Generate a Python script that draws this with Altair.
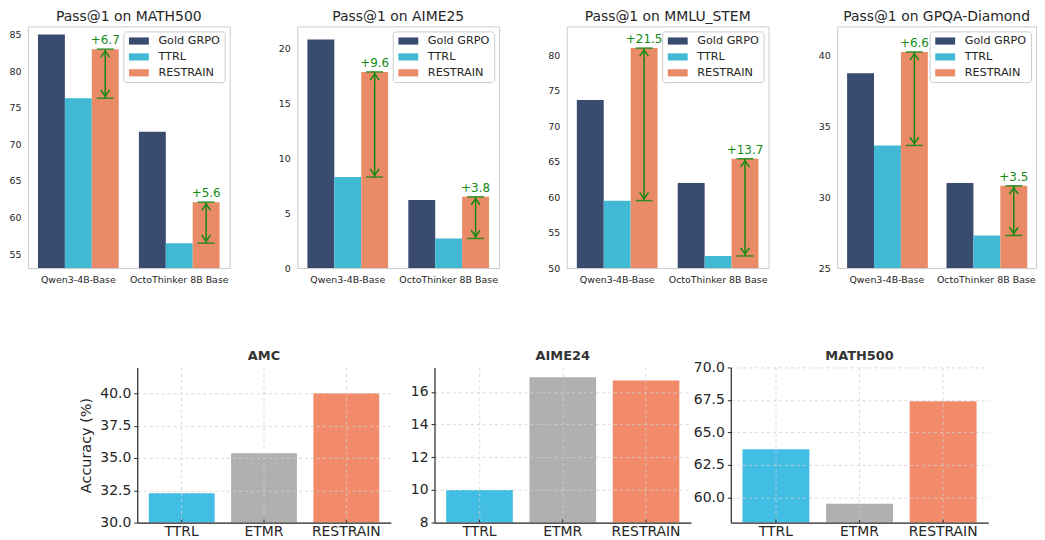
import altair as alt
import pandas as pd

FONT = "DejaVu Sans"
GREEN = "#138a13"
TXT = "#262626"

# ---------------- top row data ----------------
top_titles = ["Pass@1 on MATH500", "Pass@1 on AIME25", "Pass@1 on MMLU_STEM", "Pass@1 on GPQA-Diamond"]
models = ["Qwen3-4B-Base", "OctoThinker 8B Base"]
methods = ["Gold GRPO", "TTRL", "RESTRAIN"]
method_colors = ["#3a4b70", "#42b9d4", "#e98b66"]

gold = [[85.0, 71.7], [20.85, 6.2], [73.7, 62.0], [38.75, 31.0]]
ttrl = [[76.3, 56.5], [8.3, 2.7], [59.5, 51.7], [33.65, 27.3]]
restrain = [[83.0, 62.1], [17.9, 6.5], [81.0, 65.4], [40.25, 30.8]]
gains = [["+6.7", "+5.6"], ["+9.6", "+3.8"], ["+21.5", "+13.7"], ["+6.6", "+3.5"]]
top_domains = [[53.1, 86.1], [0, 22.05], [50, 84.05], [25, 42.05]]
top_ticks = [[55, 60, 65, 70, 75, 80, 85], [0, 5, 10, 15, 20],
             [50, 55, 60, 65, 70, 75, 80], [25, 30, 35, 40]]

# ---------------- bottom row data ----------------
bottom_titles = ["AMC", "AIME24", "MATH500"]
bottom_methods = ["TTRL", "ETMR", "RESTRAIN"]
bottom_colors = ["#42bde4", "#b0b0b0", "#f28b6a"]
amc = [32.27, 35.37, 40.0]
aime24 = [10.0, 16.9, 16.7]
math500 = [63.7, 59.5, 67.4]
bottom_values = [amc, aime24, math500]
bottom_domains = [[30, 42], [8, 17.5], [58.05, 70]]
bottom_ticks = [[30, 32.5, 35, 37.5, 40], [8, 10, 12, 14, 16], [60, 62.5, 65, 67.5, 70]]
bottom_formats = [".1f", "d", ".1f"]

TOP_W, TOP_H = 203, 243
BOT_H = 156

RECT = "M-1,-0.9 L4,-0.9 L4,0.9 L-1,0.9 Z"
UP = "M-1,1.4 L0,0 L1,1.4"
DOWN = "M-1,-1.4 L0,0 L1,-1.4"


def top_panel(i, width=TOP_W):
    rows = []
    for j, m in enumerate(models):
        for meth, vals in zip(methods, [gold, ttrl, restrain]):
            rows.append({"model": m, "method": meth, "value": vals[i][j]})
    bars_df = pd.DataFrame(rows)
    ann_df = pd.DataFrame({"model": models, "method": ["RESTRAIN"] * 2,
                           "value": restrain[i], "bottom": ttrl[i], "label": gains[i]})
    tick_df = pd.DataFrame({"model": models * 2, "method": ["RESTRAIN"] * 4,
                            "value": restrain[i] + ttrl[i]})
    down_df = pd.DataFrame({"model": models, "method": ["RESTRAIN"] * 2, "value": ttrl[i]})

    x = alt.X("model:N", sort=models,
              scale=alt.Scale(paddingInner=0.2, paddingOuter=0.1),
              axis=alt.Axis(title=None, labelAngle=0, ticks=False, domain=False, grid=False,
                            labelFontSize=9.5, labelColor=TXT, labelPadding=7, labelFont=FONT))
    xo = alt.XOffset("method:N", scale=alt.Scale(domain=methods, paddingInner=0, paddingOuter=0))
    y = alt.Y("value:Q", scale=alt.Scale(domain=top_domains[i], nice=False, zero=False),
              axis=alt.Axis(title=None, values=top_ticks[i], format="d", ticks=False, domain=False,
                            grid=False, labelFontSize=9.5, labelColor=TXT, labelPadding=7,
                            labelFont=FONT))

    bars = alt.Chart(bars_df).mark_bar(clip=True).encode(
        x=x, xOffset=xo, y=y,
        color=alt.Color("method:N", scale=alt.Scale(domain=methods, range=method_colors),
                        legend=alt.Legend(title=None, orient="top-right", offset=5, padding=4,
                                          strokeColor="#cccccc", fillColor="white", cornerRadius=3,
                                          symbolType=RECT, symbolSize=64, symbolStrokeWidth=0,
                                          symbolOpacity=1, labelFontSize=11.3, labelColor=TXT,
                                          labelFont=FONT, labelOffset=20, rowPadding=4)))
    ticks = alt.Chart(tick_df).mark_tick(color=GREEN, thickness=1.5, size=17, opacity=0.85).encode(
        x=x, xOffset=xo, y=y)
    rule = alt.Chart(ann_df).mark_rule(color=GREEN, strokeWidth=1.5).encode(
        x=x, xOffset=xo, y=y, y2=alt.Y2("bottom:Q"))
    up = alt.Chart(ann_df).mark_point(shape=UP, filled=False, size=80, strokeWidth=1.5,
                                      color=GREEN, opacity=1, yOffset=2).encode(
        x=x, xOffset=xo, y=y)
    down = alt.Chart(down_df).mark_point(shape=DOWN, filled=False, size=80, strokeWidth=1.5,
                                         color=GREEN, opacity=1, yOffset=-2).encode(
        x=x, xOffset=xo, y=y)
    txt = alt.Chart(ann_df).mark_text(color=GREEN, fontSize=12, baseline="bottom", dy=-2,
                                      font=FONT).encode(
        x=x, xOffset=xo, y=y, text="label:N")
    return alt.layer(bars, ticks, rule, up, down, txt).properties(
        width=width, height=TOP_H,
        title=alt.Title(top_titles[i], fontSize=14, fontWeight="normal", color=TXT, offset=2,
                        font=FONT, frame="group"),
        view=alt.ViewBackground(stroke="#cccccc", strokeWidth=1))


def bottom_panel(i, width):
    df = pd.DataFrame({"method": bottom_methods, "value": bottom_values[i], "color": bottom_colors})
    title_df = pd.DataFrame({"title": [bottom_titles[i]]})
    x = alt.X("method:N", sort=bottom_methods,
              scale=alt.Scale(paddingInner=0.2, paddingOuter=0.14),
              axis=alt.Axis(title=None, labelAngle=0, ticks=False, domain=True, domainColor=TXT,
                            domainWidth=1.2, labelFontSize=14, labelColor=TXT, labelPadding=2,
                            labelFont=FONT, grid=True, gridDash=[3, 3], gridColor="#d0d0d0",
                            gridOpacity=0.8, bandPosition=0.5, zindex=1))
    y = alt.Y("value:Q", scale=alt.Scale(domain=bottom_domains[i], nice=False, zero=False),
              axis=alt.Axis(title="Accuracy (%)" if i == 0 else None, values=bottom_ticks[i],
                            format=bottom_formats[i], tickSize=3.5, tickColor=TXT,
                            domainColor=TXT, domainWidth=1.2, labelFontSize=14, labelColor=TXT,
                            labelFont=FONT, labelPadding=3, grid=True, gridDash=[3, 3],
                            gridColor="#d0d0d0", gridOpacity=0.8, zindex=1,
                            titleFontSize=14.5, titleFontWeight="normal", titleColor=TXT,
                            titleFont=FONT, titlePadding=6))
    bars = alt.Chart(df).mark_bar(clip=True).encode(
        x=x, y=y, color=alt.Color("color:N", scale=None))
    tks = alt.Chart(df).mark_rule(color=TXT, strokeWidth=1).encode(
        x=x, y=alt.value(BOT_H), y2=alt.value(BOT_H - 4))
    ttl = alt.Chart(title_df).mark_text(fontSize=13, fontWeight="bold", color="#333333",
                                        font=FONT, baseline="alphabetic", align="center").encode(
        x=alt.value(width / 2), y=alt.value(-7), text="title:N")
    return alt.layer(bars, tks, ttl).properties(width=width, height=BOT_H)


def spacer(w, h):
    return alt.Chart(pd.DataFrame({"s": [0]})).mark_rect(opacity=0).encode(
        x=alt.value(0), x2=alt.value(w), y=alt.value(0), y2=alt.value(h)
    ).properties(width=w, height=h)


top_row = alt.hconcat(
    top_panel(0), spacer(68, TOP_H), top_panel(1), spacer(68, TOP_H),
    top_panel(2), spacer(69, TOP_H), top_panel(3, 200),
    spacing=0, bounds="flush",
).resolve_scale(color="independent")

bottom_row = alt.hconcat(
    spacer(110, BOT_H), bottom_panel(0, 255), spacer(44, BOT_H), bottom_panel(1, 258),
    spacer(40, BOT_H), bottom_panel(2, 259),
    spacing=0, bounds="flush",
)

chart = alt.vconcat(top_row, bottom_row, spacing=66).properties(padding=0).configure_view(
    strokeWidth=0)

chart.save("out.html", embed_options={"renderer": "svg", "actions": False})
